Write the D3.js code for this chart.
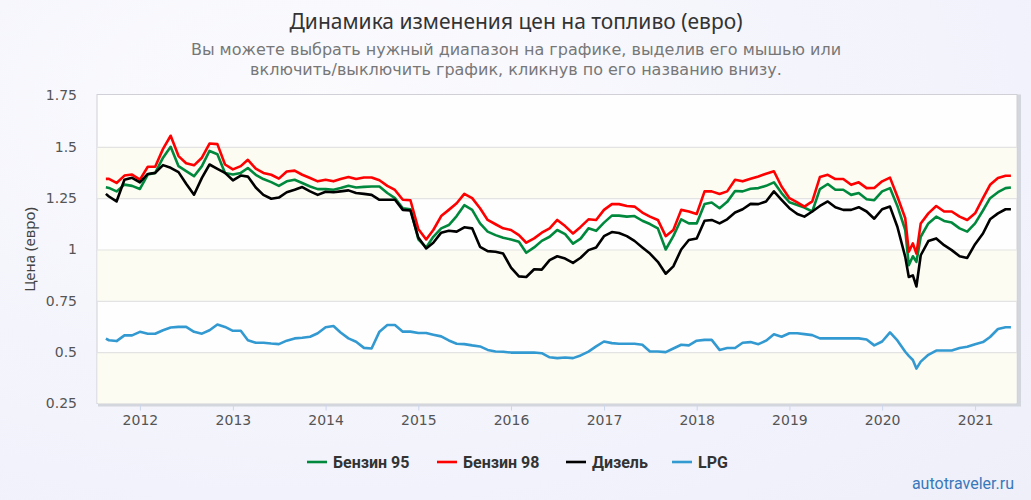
<!DOCTYPE html>
<html>
<head>
<meta charset="utf-8">
<script src="https://cdn.jsdelivr.net/npm/d3@7/dist/d3.min.js"></script>
<style>
  html, body { margin: 0; padding: 0; }
  body { width: 1031px; height: 500px; overflow: hidden;
         background: radial-gradient(ellipse at 30% 20%, #fbfbfe 0%, #f1f2fb 70%, #eeeff9 100%); }
  text { font-family: "DejaVu Sans", sans-serif; }
</style>
</head>
<body>
<div id="chart"></div>
<script>
// sample dates (roughly monthly, a few extra points in spring 2020)
var dates = [
  "2011-08-20", "2011-09-01", "2011-10-01", "2011-11-01", "2011-12-01",
  "2012-01-01", "2012-02-01", "2012-03-01", "2012-04-01", "2012-05-01", "2012-06-01", "2012-07-01", "2012-08-01", "2012-09-01", "2012-10-01", "2012-11-01", "2012-12-01",
  "2013-01-01", "2013-02-01", "2013-03-01", "2013-04-01", "2013-05-01", "2013-06-01", "2013-07-01", "2013-08-01", "2013-09-01", "2013-10-01", "2013-11-01", "2013-12-01",
  "2014-01-01", "2014-02-01", "2014-03-01", "2014-04-01", "2014-05-01", "2014-06-01", "2014-07-01", "2014-08-01", "2014-09-01", "2014-10-01", "2014-11-01", "2014-12-01",
  "2015-01-01", "2015-02-01", "2015-03-01", "2015-04-01", "2015-05-01", "2015-06-01", "2015-07-01", "2015-08-01", "2015-09-01", "2015-10-01", "2015-11-01", "2015-12-01",
  "2016-01-01", "2016-02-01", "2016-03-01", "2016-04-01", "2016-05-01", "2016-06-01", "2016-07-01", "2016-08-01", "2016-09-01", "2016-10-01", "2016-11-01", "2016-12-01",
  "2017-01-01", "2017-02-01", "2017-03-01", "2017-04-01", "2017-05-01", "2017-06-01", "2017-07-01", "2017-08-01", "2017-09-01", "2017-10-01", "2017-11-01", "2017-12-01",
  "2018-01-01", "2018-02-01", "2018-03-01", "2018-04-01", "2018-05-01", "2018-06-01", "2018-07-01", "2018-08-01", "2018-09-01", "2018-10-01", "2018-11-01", "2018-12-01",
  "2019-01-01", "2019-02-01", "2019-03-01", "2019-04-01", "2019-05-01", "2019-06-01", "2019-07-01", "2019-08-01", "2019-09-01", "2019-10-01", "2019-11-01", "2019-12-01",
  "2020-01-01", "2020-02-01", "2020-03-01", "2020-04-01", "2020-04-15", "2020-05-01", "2020-05-15", "2020-06-01", "2020-07-01", "2020-08-01", "2020-09-01", "2020-10-01", "2020-11-01", "2020-12-01",
  "2021-01-01", "2021-02-01", "2021-03-01", "2021-04-01", "2021-05-01", "2021-05-22"
];

var benzin95 = [
  1.303, 1.300, 1.283, 1.316, 1.310,
  1.295, 1.365, 1.373, 1.447, 1.500, 1.406, 1.382, 1.357, 1.406, 1.480, 1.464, 1.373,
  1.365, 1.373, 1.397, 1.364, 1.343, 1.328, 1.310, 1.332, 1.340, 1.324, 1.307, 1.294,
  1.294, 1.291, 1.299, 1.310, 1.302, 1.305, 1.307, 1.307, 1.275, 1.250, 1.201, 1.196,
  1.050, 1.010, 1.062, 1.103, 1.119, 1.163, 1.216, 1.193, 1.127, 1.087, 1.070, 1.057,
  1.049, 1.038, 0.984, 1.010, 1.042, 1.062, 1.095, 1.075, 1.029, 1.053, 1.103, 1.091,
  1.131, 1.165, 1.165, 1.160, 1.163, 1.140, 1.124, 1.103, 1.000, 1.065, 1.147, 1.127,
  1.127, 1.222, 1.229, 1.201, 1.232, 1.285, 1.283, 1.296, 1.299, 1.310, 1.327, 1.275,
  1.230, 1.217, 1.204, 1.185, 1.294, 1.319, 1.291, 1.291, 1.266, 1.275, 1.245, 1.240,
  1.283, 1.299, 1.212, 1.095, 0.923, 0.967, 0.940, 1.062, 1.127, 1.160, 1.139, 1.131, 1.103, 1.087,
  1.127, 1.190, 1.250, 1.279, 1.299, 1.302
];

var benzin98 = [
  1.344, 1.344, 1.324, 1.360, 1.365,
  1.340, 1.403, 1.403, 1.490, 1.554, 1.455, 1.420, 1.410, 1.447, 1.516, 1.513, 1.414,
  1.390, 1.406, 1.437, 1.394, 1.373, 1.364, 1.345, 1.380, 1.384, 1.364, 1.348, 1.332,
  1.340, 1.332, 1.343, 1.353, 1.343, 1.351, 1.351, 1.337, 1.310, 1.290, 1.242, 1.240,
  1.100, 1.049, 1.095, 1.163, 1.193, 1.225, 1.271, 1.250, 1.201, 1.144, 1.123, 1.103,
  1.095, 1.070, 1.033, 1.054, 1.082, 1.103, 1.144, 1.114, 1.078, 1.110, 1.147, 1.144,
  1.193, 1.221, 1.221, 1.212, 1.209, 1.180, 1.160, 1.144, 1.065, 1.095, 1.193, 1.185,
  1.173, 1.283, 1.283, 1.270, 1.283, 1.340, 1.332, 1.345, 1.356, 1.369, 1.381, 1.307,
  1.250, 1.229, 1.209, 1.234, 1.353, 1.364, 1.343, 1.343, 1.315, 1.327, 1.299, 1.300,
  1.332, 1.350, 1.258, 1.152, 0.989, 1.030, 0.980, 1.127, 1.176, 1.212, 1.185, 1.185, 1.160, 1.144,
  1.176, 1.250, 1.315, 1.348, 1.359, 1.359
];

var dizel = [
  1.271, 1.258, 1.234, 1.340, 1.349,
  1.327, 1.368, 1.373, 1.411, 1.398, 1.377, 1.320, 1.267, 1.349, 1.414, 1.393, 1.373,
  1.337, 1.360, 1.355, 1.302, 1.266, 1.247, 1.253, 1.279, 1.291, 1.304, 1.283, 1.266,
  1.281, 1.279, 1.283, 1.288, 1.275, 1.271, 1.266, 1.242, 1.242, 1.242, 1.193, 1.190,
  1.058, 1.005, 1.033, 1.082, 1.091, 1.087, 1.108, 1.103, 1.013, 0.992, 0.989, 0.980,
  0.912, 0.869, 0.866, 0.904, 0.902, 0.948, 0.967, 0.956, 0.935, 0.960, 0.997, 1.010,
  1.065, 1.085, 1.080, 1.065, 1.042, 1.010, 0.980, 0.940, 0.882, 0.918, 1.000, 1.046,
  1.054, 1.140, 1.144, 1.127, 1.147, 1.180, 1.196, 1.222, 1.221, 1.234, 1.283, 1.242,
  1.201, 1.173, 1.160, 1.185, 1.212, 1.234, 1.206, 1.193, 1.193, 1.206, 1.185, 1.150,
  1.196, 1.209, 1.111, 0.964, 0.866, 0.874, 0.820, 0.972, 1.041, 1.054, 1.021, 0.997, 0.967, 0.959,
  1.026, 1.078, 1.147, 1.176, 1.196, 1.196
];

var lpg = [
  0.566, 0.558, 0.554, 0.582, 0.582,
  0.599, 0.590, 0.590, 0.607, 0.620, 0.623, 0.623, 0.599, 0.590, 0.607, 0.635, 0.623,
  0.604, 0.604, 0.558, 0.546, 0.546, 0.542, 0.539, 0.556, 0.567, 0.570, 0.575, 0.592,
  0.621, 0.627, 0.596, 0.567, 0.551, 0.521, 0.518, 0.600, 0.632, 0.632, 0.600, 0.600,
  0.593, 0.593, 0.585, 0.577, 0.557, 0.541, 0.539, 0.533, 0.528, 0.511, 0.503, 0.502,
  0.498, 0.498, 0.498, 0.498, 0.495, 0.475, 0.471, 0.474, 0.471, 0.484, 0.503, 0.528,
  0.552, 0.544, 0.541, 0.541, 0.541, 0.536, 0.503, 0.503, 0.500, 0.518, 0.536, 0.533,
  0.556, 0.560, 0.560, 0.511, 0.520, 0.520, 0.546, 0.549, 0.539, 0.556, 0.587, 0.575,
  0.592, 0.592, 0.588, 0.583, 0.567, 0.567, 0.567, 0.567, 0.567, 0.567, 0.562, 0.533,
  0.552, 0.596, 0.557, 0.502, 0.482, 0.462, 0.420, 0.454, 0.487, 0.508, 0.508, 0.508, 0.520, 0.526,
  0.539, 0.549, 0.574, 0.613, 0.621, 0.621
];

var seriesNames = ["Бензин 95", "Бензин 98", "Дизель", "LPG"];
var seriesColors = ["#00893c", "#ff0000", "#000000", "#3399d1"];
var yTicks = [0.25, 0.5, 0.75, 1, 1.25, 1.5, 1.75];
var yearTicks = [2012, 2013, 2014, 2015, 2016, 2017, 2018, 2019, 2020, 2021];

var titleText = "Динамика изменения цен на топливо (евро)";
var subtitleLines = ["Вы можете выбрать нужный диапазон на графике, выделив его мышью или",
                     "включить/выключить график, кликнув по его названию внизу."];

// layout
var W = 1031, H = 500;
var plot = {left: 97, right: 1017, top: 95.5, bottom: 403.5};

var parse = d3.timeParse("%Y-%m-%d");
var allSeries = [benzin95, benzin98, dizel, lpg].map(function(vals, i) {
    return {
        name: seriesNames[i],
        color: seriesColors[i],
        points: vals.map(function(v, j) { return {date: parse(dates[j]), value: v}; })
    };
});

var svg = d3.select("#chart").append("svg")
    .attr("width", W)
    .attr("height", H);

var x = d3.scaleTime()
    .domain([new Date(2011, 6, 16), new Date(2021, 5, 15)])
    .range([plot.left, plot.right]);

var y = d3.scaleLinear()
    .domain([0.25, 1.75])
    .range([plot.bottom, plot.top]);

// plot frame with a soft shadow
svg.append("rect")
    .attr("x", plot.left + 1).attr("y", plot.top - 1)
    .attr("width", plot.right - plot.left + 3).attr("height", plot.bottom - plot.top + 4)
    .attr("fill", "#d4d6de");
svg.append("rect")
    .attr("x", plot.left).attr("y", plot.top - 1)
    .attr("width", plot.right - plot.left).attr("height", plot.bottom - plot.top + 1)
    .attr("fill", "#fefefe")
    .attr("stroke", "#d0d0d6");

// alternate bands
var bands = [[1.25, 1.5], [0.75, 1], [0.25, 0.5]];
svg.selectAll(".band")
    .data(bands)
    .enter().append("rect")
    .attr("class", "band")
    .attr("x", plot.left + 0.5)
    .attr("width", plot.right - plot.left - 1)
    .attr("y", function(d) { return y(d[1]); })
    .attr("height", function(d) { return y(d[0]) - y(d[1]); })
    .attr("fill", "#fcfcf3");

// y grid + labels
var yAxis = d3.axisLeft(y)
    .tickValues(yTicks)
    .tickSize(-(plot.right - plot.left))
    .tickFormat(function(d) { return String(d); });
var gy = svg.append("g")
    .attr("transform", "translate(" + plot.left + ",0)")
    .call(yAxis);
gy.attr("font-family", null);
gy.select(".domain").remove();
gy.selectAll(".tick line").attr("stroke", "#e3e3e3").attr("stroke-width", 1.2);
gy.selectAll(".tick").filter(function(d) { return d === 1.75 || d === 0.25; }).select("line").remove();
gy.selectAll(".tick text")
    .attr("x", -20)
    .attr("fill", "#555")
    .attr("font-size", 14);

// x axis
var xAxis = d3.axisBottom(x)
    .tickValues(yearTicks.map(function(yr) { return new Date(yr, 0, 1); }))
    .tickSize(6)
    .tickFormat(d3.timeFormat("%Y"));
var gx = svg.append("g")
    .attr("transform", "translate(0," + (plot.bottom + 1) + ")")
    .call(xAxis);
gx.attr("font-family", null);
gx.select(".domain").remove();
gx.selectAll(".tick line").attr("stroke", "#cdd6ea");
gx.selectAll(".tick text")
    .attr("y", 11)
    .attr("fill", "#555")
    .attr("font-size", 14);

// lines
var line = d3.line()
    .x(function(d) { return x(d.date); })
    .y(function(d) { return y(d.value); });

svg.selectAll(".series")
    .data(allSeries)
    .enter().append("path")
    .attr("class", "series")
    .attr("d", function(d) { return line(d.points); })
    .attr("fill", "none")
    .attr("stroke", function(d) { return d.color; })
    .attr("stroke-width", 2.6)
    .attr("stroke-linejoin", "round");

// titles
svg.append("text")
    .attr("x", 516).attr("y", 29)
    .attr("text-anchor", "middle")
    .style("font-family", "'Noto Sans', 'DejaVu Sans', sans-serif")
    .attr("font-size", 21)
    .attr("fill", "#333")
    .text(titleText);

// subtitle: one text block, two lines
var sub = svg.append("text")
    .attr("y", 55)
    .attr("text-anchor", "middle")
    .style("font-family", "'DejaVu Sans', sans-serif")
    .attr("font-size", 16)
    .attr("fill", "#777");
sub.selectAll("tspan")
    .data(subtitleLines)
    .enter().append("tspan")
    .attr("x", 516)
    .attr("dy", function(d, i) { return i === 0 ? 0 : 19.5; })
    .text(function(d) { return d; });

// y axis title
svg.append("text")
    .attr("transform", "translate(35," + ((plot.top + plot.bottom) / 2) + ") rotate(-90)")
    .attr("text-anchor", "middle")
    .style("font-family", "'Noto Sans', 'DejaVu Sans', sans-serif")
    .attr("font-size", 15)
    .attr("fill", "#444")
    .text("Цена (евро)");

// legend
var legendX = [307, 437, 566, 672];
var legend = svg.selectAll(".legend")
    .data(allSeries)
    .enter().append("g")
    .attr("class", "legend")
    .attr("transform", function(d, i) { return "translate(" + legendX[i] + ",462)"; });
legend.append("line")
    .attr("x1", 0).attr("x2", 20)
    .attr("stroke", function(d) { return d.color; })
    .attr("stroke-width", 2.6);
legend.append("text")
    .attr("x", 26).attr("dy", "0.35em")
    .style("font-family", "Roboto, 'DejaVu Sans', sans-serif")
    .attr("font-size", 16)
    .attr("font-weight", "bold")
    .attr("fill", "#333")
    .text(function(d) { return d.name; });

// credit
svg.append("text")
    .attr("x", 1014).attr("y", 489)
    .attr("text-anchor", "end")
    .style("font-family", "Roboto, 'DejaVu Sans', sans-serif")
    .attr("font-size", 16)
    .attr("fill", "#3a78b9")
    .text("autotraveler.ru");
</script>
</body>
</html>
